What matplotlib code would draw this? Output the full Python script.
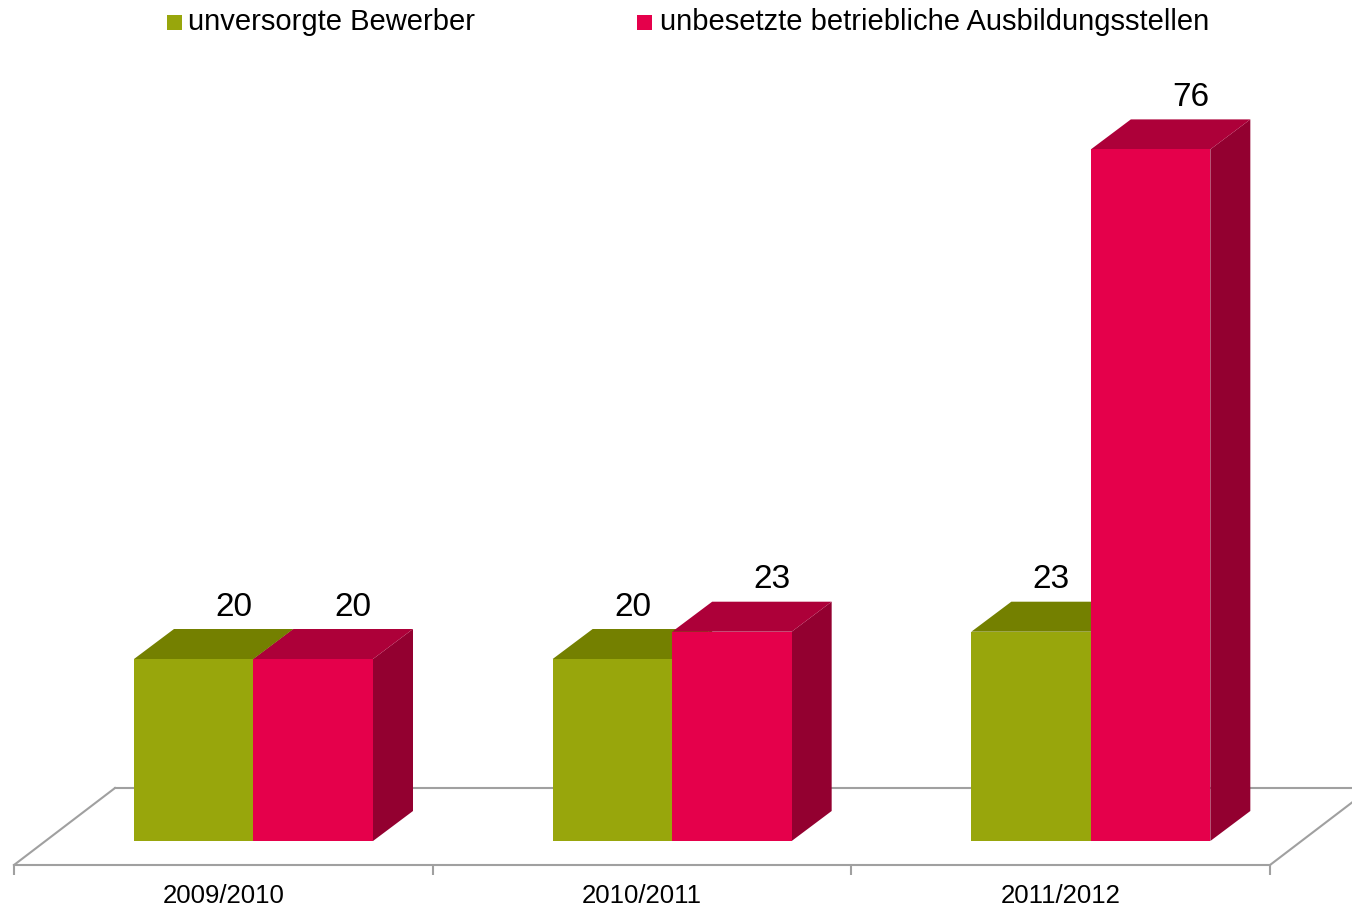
import numpy as np
import matplotlib.pyplot as plt
from matplotlib.patches import Polygon, Rectangle

plt.rcParams['font.family'] = ['Liberation Sans', 'DejaVu Sans']

categories = ['2009/2010', '2010/2011', '2011/2012']
series_names = ['unversorgte Bewerber', 'unbesetzte betriebliche Ausbildungsstellen']
bewerber = [20, 20, 23]
stellen = [20, 23, 76]

front_colors = ['#98a60c', '#e5004b']
top_colors = ['#748000', '#ad0039']
side_colors = ['#6a7500', '#930030']

W, H = 1352, 908
fig = plt.figure(figsize=(W / 100, H / 100), dpi=100)

# axes: x data -0.5..2.5 spans pixels 14..1270, y=0 sits at pixel 841
px_per_unit = 9.1
y_bottom = -(865 - 841) / px_per_unit
y_top = (841 - 40) / px_per_unit
ax = fig.add_axes([14 / W, (H - 865) / H, (1270 - 14) / W, (865 - 40) / H])
ax.set_xlim(-0.5, 2.5)
ax.set_ylim(y_bottom, y_top)

cat_px = (1270 - 14) / 3
bar_w = 119.5 / cat_px
left0 = -0.5 + 120 / cat_px
dx = 40 / cat_px
dy = 30 / px_per_unit

# floor of the 3d box
fdx = 101 / cat_px
fdy = 77 / px_per_unit
floor_col = '#a0a0a0'
ax.plot([-0.5, -0.5 + fdx], [y_bottom, y_bottom + fdy], color=floor_col, lw=1.5, clip_on=False, zorder=1)
ax.plot([-0.5 + fdx, 2.5 + fdx], [y_bottom + fdy] * 2, color=floor_col, lw=1.5, clip_on=False, zorder=1)
ax.plot([2.5, 2.5 + fdx], [y_bottom, y_bottom + fdy], color=floor_col, lw=1.5, clip_on=False, zorder=1)

x = np.arange(len(categories))
all_vals = [bewerber, stellen]
for s, vals in enumerate(all_vals):
    lefts = x + left0 + s * bar_w
    ax.bar(lefts, vals, bar_w, align='edge', color=front_colors[s], zorder=3 + s * 0.1)
    for i, (xl, v) in enumerate(zip(lefts, vals)):
        xr = xl + bar_w
        top = Polygon([[xl, v], [xr, v], [xr + dx, v + dy], [xl + dx, v + dy]],
                      closed=True, facecolor=top_colors[s], edgecolor='none', zorder=2.9 + s * 0.1)
        side = Polygon([[xr, 0], [xr + dx, dy], [xr + dx, v + dy], [xr, v]],
                       closed=True, facecolor=side_colors[s], edgecolor='none', zorder=2.8 + s * 0.1)
        ax.add_patch(top)
        ax.add_patch(side)
        # label slides left when the neighbouring bar is taller
        lx = xl + bar_w / 2 + dx
        if s == 0 and all_vals[1][i] > v:
            lx = xl + bar_w / 2 + dx / 2
        ax.text(lx, v + dy + 2.4, str(v), ha='center', va='center',
                fontsize=24, color='black', zorder=5)

for sp in ['top', 'right', 'left']:
    ax.spines[sp].set_visible(False)
ax.spines['bottom'].set_color(floor_col)
ax.spines['bottom'].set_linewidth(1.5)
ax.set_yticks([])
ax.set_xticks([-0.5, 0.5, 1.5, 2.5])
ax.set_xticklabels([])
ax.tick_params(axis='x', which='major', length=7, width=1.5, color=floor_col)
ax.set_xticks(x, minor=True)
ax.set_xticklabels(categories, minor=True, fontsize=18.5)
ax.tick_params(axis='x', which='minor', length=0, pad=14)

# legend
leg_y = (H - 22) / H
for s, (xs, xt) in enumerate([(167, 188), (637, 660)]):
    fig.patches.append(Rectangle((xs / W, (H - 30) / H), 15 / W, 15 / H, transform=fig.transFigure,
                                 facecolor=front_colors[s], edgecolor='none'))
    fig.text(xt / W, leg_y, series_names[s], ha='left', va='center', fontsize=21)

fig.savefig('out.png', dpi=100)
